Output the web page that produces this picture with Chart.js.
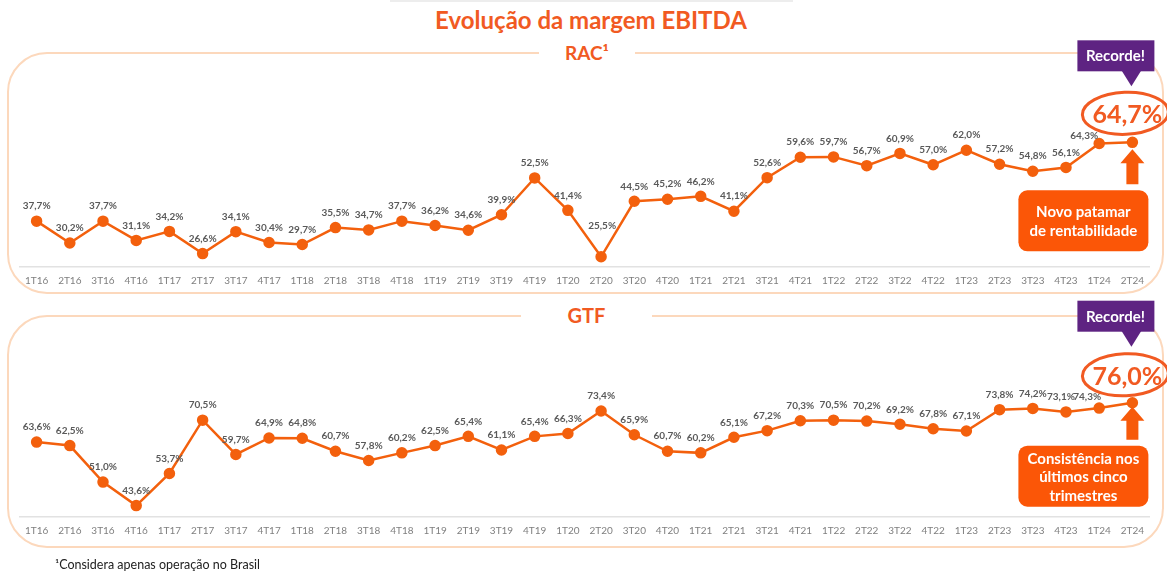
<!DOCTYPE html>
<html lang="pt-BR">
<head>
<meta charset="utf-8">
<script src="https://cdn.jsdelivr.net/npm/chart.js@4.4.1/dist/chart.umd.min.js"></script>
<style>
  html, body { margin: 0; padding: 0; background: #fff; }
  body { width: 1167px; height: 576px; position: relative; overflow: hidden; font-family: Lato, "Open Sans", sans-serif; }
  .topline { position: absolute; left: 390px; top: 0; width: 403px; height: 2px; background: #ededed; }
  h1 { position: absolute; left: 0; top: 4px; width: 1182px; margin: 0; text-align: center; color: #f15a22; font-size: 24px; font-weight: 700; line-height: 32px; }
  .frame { position: absolute; left: 7px; width: 1157px; border: 2.5px solid #fcd8bc; border-radius: 40px; box-sizing: border-box; }
  #frameRac { top: 52px; height: 242px; }
  #frameGtf { top: 315px; height: 233px; }
  .frame-title { position: absolute; background: #fff; color: #f15a22; font-weight: 700; text-align: center; line-height: 24px; }
  #frameRac .frame-title { left: 530px; top: -13px; width: 96px; font-size: 19px; }
  #frameGtf .frame-title { left: 512px; top: -14px; width: 131px; font-size: 20px; }
  .chart-box { position: absolute; left: 0; }
  #racBox { top: 0; }
  #gtfBox { top: 290px; }
  .note { position: absolute; left: 55px; top: 557px; font-size: 12.5px; color: #222; }
</style>
</head>
<body>
<div class="topline"></div>
<h1>Evolução da margem EBITDA</h1>
<div class="frame" id="frameRac"><div class="frame-title">RAC¹</div></div>
<div class="frame" id="frameGtf"><div class="frame-title">GTF</div></div>
<div class="chart-box" id="racBox"><canvas id="rac" width="1167" height="300"></canvas></div>
<div class="chart-box" id="gtfBox"><canvas id="gtf" width="1167" height="270"></canvas></div>
<div class="note">¹Considera apenas operação no Brasil</div>
<script>
//quarters on the x axis
const quarters = [
  "1T16", "2T16", "3T16", "4T16", "1T17", "2T17", "3T17", "4T17",
  "1T18", "2T18", "3T18", "4T18", "1T19", "2T19", "3T19", "4T19",
  "1T20", "2T20", "3T20", "4T20", "1T21", "2T21", "3T21", "4T21",
  "1T22", "2T22", "3T22", "4T22", "1T23", "2T23", "3T23", "4T23",
  "1T24", "2T24"
];

//EBITDA margin, RAC (%)
const racMargin = [
  37.7, 30.2, 37.7, 31.1, 34.2, 26.6, 34.1, 30.4,
  29.7, 35.5, 34.7, 37.7, 36.2, 34.6, 39.9, 52.5,
  41.4, 25.5, 44.5, 45.2, 46.2, 41.1, 52.6, 59.6,
  59.7, 56.7, 60.9, 57.0, 62.0, 57.2, 54.8, 56.1,
  64.3, 64.7
];

//EBITDA margin, GTF (%)
const gtfMargin = [
  63.6, 62.5, 51.0, 43.6, 53.7, 70.5, 59.7, 64.9,
  64.8, 60.7, 57.8, 60.2, 62.5, 65.4, 61.1, 65.4,
  66.3, 73.4, 65.9, 60.7, 60.2, 65.1, 67.2, 70.3,
  70.5, 70.2, 69.2, 67.8, 67.1, 73.8, 74.2, 73.1,
  74.3, 76.0
];

const racNote = ["Novo patamar", "de rentabilidade"];
const gtfNote = ["Consistência nos", "últimos cinco", "trimestres"];

const ORANGE = "#f3600d";
const fmt = (v) => v.toFixed(1).replace(".", ",") + "%";

//value labels above each point
const pointLabels = {
  id: "pointLabels",
  afterDatasetsDraw(chart, args, opts) {
    const ctx = chart.ctx;
    const meta = chart.getDatasetMeta(0);
    const values = chart.data.datasets[0].data;
    ctx.save();
    ctx.font = "bold 10px Lato";
    ctx.fillStyle = "#5a5a5a";
    ctx.textAlign = "center";
    ctx.textBaseline = "middle";
    meta.data.forEach((pt, i) => {
      if (i === values.length - 1) return;
      const s = (opts.shift && opts.shift[i]) || [0, 0];
      ctx.fillText(fmt(values[i]), pt.x + s[0], pt.y - 15 + s[1]);
    });
    ctx.restore();
  }
};

//"Recorde!" tag, circled last value, arrow and note box
const callout = {
  id: "callout",
  afterDraw(chart, args, opts) {
    const ctx = chart.ctx;
    const meta = chart.getDatasetMeta(0);
    const values = chart.data.datasets[0].data;
    const last = meta.data[meta.data.length - 1];
    const px = last.x, py = last.y;
    ctx.save();

    //purple tag
    ctx.fillStyle = "#5e2382";
    ctx.fillRect(px - 55, py - 102, 77, 31);
    ctx.beginPath();
    ctx.moveTo(px - 11, py - 72);
    ctx.lineTo(px + 9, py - 72);
    ctx.lineTo(px - 1, py - 56);
    ctx.closePath();
    ctx.fill();
    ctx.fillStyle = "#fff";
    ctx.font = "bold 15px Lato";
    ctx.textAlign = "center";
    ctx.textBaseline = "middle";
    ctx.fillText("Recorde!", px - 17, py - 86);

    //circled value
    ctx.strokeStyle = "#f15a22";
    ctx.lineWidth = 3;
    ctx.beginPath();
    ctx.ellipse(px - 7, py + opts.ringDy, 43, 21, -0.04, 0, Math.PI * 2);
    ctx.stroke();
    ctx.fillStyle = "#f15a22";
    ctx.font = "bold 25px Lato";
    ctx.fillText(fmt(values[values.length - 1]), px - 5, py + opts.ringDy + 2);

    //arrow
    const tip = py + opts.arrowDy;
    const boxTop = py + opts.boxDy;
    ctx.fillStyle = "#f75a0a";
    ctx.beginPath();
    ctx.moveTo(px, tip);
    ctx.lineTo(px + 12, tip + 14);
    ctx.lineTo(px + 6, tip + 14);
    ctx.lineTo(px + 6, boxTop - 6);
    ctx.lineTo(px - 6, boxTop - 6);
    ctx.lineTo(px - 6, tip + 14);
    ctx.lineTo(px - 12, tip + 14);
    ctx.closePath();
    ctx.fill();

    //note box
    ctx.fillStyle = "#fb5607";
    ctx.beginPath();
    ctx.roundRect(px - 114, boxTop, 130, opts.boxH, 9);
    ctx.fill();
    ctx.fillStyle = "#fff";
    ctx.font = "bold 15px Lato";
    const lines = opts.lines;
    const mid = boxTop + opts.boxH / 2 + 1;
    lines.forEach((t, i) => {
      ctx.fillText(t, px - 49, mid + (i - (lines.length - 1) / 2) * 18.5);
    });
    ctx.restore();
  }
};

function makeChart(id, values, yMin, yMax, pad, plugOpts) {
  return new Chart(document.getElementById(id).getContext("2d"), {
    type: "line",
    data: {
      labels: quarters,
      datasets: [{
        data: values,
        borderColor: ORANGE,
        backgroundColor: ORANGE,
        borderWidth: 2.5,
        pointRadius: 4.5,
        pointBackgroundColor: ORANGE,
        pointBorderColor: ORANGE,
        tension: 0
      }]
    },
    options: {
      responsive: false,
      animation: false,
      layout: { padding: pad },
      plugins: {
        legend: { display: false },
        tooltip: { enabled: false },
        pointLabels: { shift: plugOpts.shift },
        callout: plugOpts
      },
      scales: {
        x: {
          offset: true,
          grid: { display: false, drawTicks: false },
          border: { color: "#e2e2e2", width: 1.5 },
          ticks: {
            padding: 8,
            color: "#7f7f7f",
            autoSkip: false,
            maxRotation: 0,
            font: { family: "Lato", size: 10 }
          }
        },
        y: { display: false, min: yMin, max: yMax }
      }
    },
    plugins: [pointLabels, callout]
  });
}

makeChart("rac", racMargin, 22, 72,
  { left: 20, right: 18, top: 121, bottom: 5 },
  { shift: { 17: [1, -16], 32: [-15, 7] }, ringDy: -29, arrowDy: 7, boxDy: 48, boxH: 61, lines: racNote });

makeChart("gtf", gtfMargin, 40, 80,
  { left: 20, right: 18, top: 100, bottom: 15 },
  { shift: { 31: [-5, 0], 32: [-12, 4] }, ringDy: -28, arrowDy: 4, boxDy: 43, boxH: 61, lines: gtfNote });
</script>
</body>
</html>
